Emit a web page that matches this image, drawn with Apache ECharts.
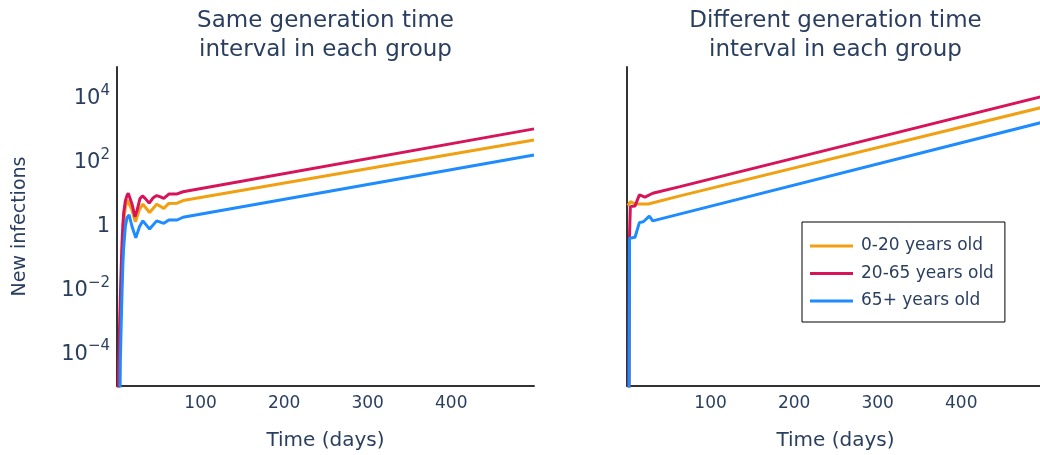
<!DOCTYPE html>
<html>
<head>
<meta charset="utf-8">
<script src="https://cdn.jsdelivr.net/npm/echarts@6/dist/echarts.min.js"></script>
<style>
  html, body { margin: 0; padding: 0; background: #ffffff; }
  #chart { width: 1040px; height: 455px; }
</style>
</head>
<body>
<div id="chart"></div>
<script>
// Daily new infections per age group, as [day, new infections] pairs.
const groupNames = ['0-20 years old', '20-65 years old', '65+ years old'];
const groupColors = ['#F0A010', '#D7145A', '#1E8CFF'];

const panelTitles = [
  'Same generation time\ninterval in each group',
  'Different generation time\ninterval in each group'
];

// Panel 1: same generation time interval in each group
const sameYoung = [
  [1, 1e-8], [2, 5e-6], [3, 1e-4], [4, 0.0015], [5, 0.015], [6, 0.1], [7, 0.5],
  [8, 1.5], [10, 4], [12, 6.8], [14, 7.8], [17.5, 3.5], [22, 1.4], [27, 3.5],
  [31, 5.0], [39, 2.75], [47.5, 5.0], [56, 3.7], [62, 5.3], [72, 5.4], [79, 6.5],
  [499, 513]
];
const sameAdult = [
  [1, 1e-7], [2, 3e-5], [3, 6e-4], [4, 0.006], [5, 0.05], [6, 0.3], [7, 1.1],
  [8, 2.7], [10, 6.3], [12, 9.5], [13.5, 11], [15, 10], [18, 5], [21.5, 2.0],
  [24, 3.2], [27.5, 7.5], [30.5, 9.1], [34, 7.5], [38.5, 5.4], [43, 7.8],
  [47.5, 9.3], [52, 8.5], [56, 7.6], [62, 10.4], [72, 10.5], [79, 12.3],
  [499, 1150]
];
const sameSenior = [
  [3, 1e-7], [4, 6e-5], [5, 8e-4], [6, 0.0083], [7, 0.063], [8, 0.22], [10, 1.0],
  [12, 1.9], [14.5, 2.3], [18, 1.0], [22.5, 0.44], [27, 1.0], [31, 1.5],
  [39, 0.83], [47.5, 1.5], [56, 1.26], [62, 1.6], [72, 1.6], [79, 1.95],
  [499, 174]
];

// Panel 2: different generation time interval in each group
const diffYoung = [
  [1, 4.5], [4, 6.0], [9.6, 5.1], [25.5, 5.1], [63.4, 9.1], [499, 5600]
];
const diffAdult = [
  [2, 1e-9], [3, 0.5], [4, 4.2], [9.6, 4.4], [14.8, 9.8], [21.5, 8.3],
  [30.8, 11], [63.4, 17.8], [499, 12300]
];
const diffSenior = [
  [2, 1e-9], [3, 0.43], [9.6, 0.46], [14.8, 1.32], [19.5, 1.41], [26.7, 2.1],
  [30.8, 1.5], [499, 1900]
];

// Axis settings
const dayRange = [0, 499];
const dayTicks = [100, 200, 300, 400];
const infectionRange = [1e-5, 1e5];
const infectionTicks = [1e-4, 1e-2, 1, 1e2, 1e4];

const panels = [
  [sameYoung, sameAdult, sameSenior],
  [diffYoung, diffAdult, diffSenior]
];

const textColor = '#2a3f5f';
const fontFamily = '"DejaVu Sans", Verdana, sans-serif';
const axisLineStyle = { color: '#333333', width: 2 };

// "1" for 10^0, otherwise 10 with a raised exponent
function powerLabel(value) {
  const e = Math.round(Math.log10(value));
  if (e === 0) return '{b|1}';
  const sup = e < 0 ? '\u2212' + (-e) : String(e);
  return '{b|10}{s|' + sup + '}';
}

const chart = echarts.init(document.getElementById('chart'), null, { renderer: 'canvas' });

const grids = [
  { left: 117, top: 67, width: 417, height: 319, outerBoundsMode: 'none', containLabel: false },
  { left: 627, top: 67, width: 417, height: 319, outerBoundsMode: 'none', containLabel: false }
];

const xAxes = grids.map((g, i) => ({
  type: 'value',
  gridIndex: i,
  min: dayRange[0],
  max: dayRange[1],
  axisLine: { show: true, onZero: false, lineStyle: axisLineStyle },
  axisTick: { show: false },
  splitLine: { show: false },
  axisLabel: {
    color: textColor, fontFamily, fontSize: 17, margin: 9,
    customValues: dayTicks,
    formatter: v => String(v)
  },
  name: 'Time (days)',
  nameLocation: 'middle',
  nameGap: 45,
  nameTextStyle: { color: textColor, fontFamily, fontSize: 20 }
}));

const yAxes = grids.map((g, i) => ({
  type: 'log',
  logBase: 10,
  gridIndex: i,
  min: infectionRange[0],
  max: infectionRange[1],
  axisLine: { show: true, onZero: false, lineStyle: axisLineStyle },
  axisTick: { show: false },
  splitLine: { show: false },
  minorTick: { show: false },
  axisLabel: {
    show: i === 0,
    margin: 7,
    customValues: infectionTicks,
    formatter: powerLabel,
    rich: {
      b: { color: textColor, fontFamily, fontSize: 21, lineHeight: 30 },
      s: { color: textColor, fontFamily, fontSize: 15, lineHeight: 12, verticalAlign: 'top' }
    }
  },
  name: i === 0 ? 'New infections' : '',
  nameLocation: 'middle',
  nameGap: 87,
  nameTextStyle: { color: textColor, fontFamily, fontSize: 19 }
}));

const series = [];
panels.forEach((groups, p) => {
  groups.forEach((data, k) => {
    series.push({
      type: 'line',
      name: groupNames[k],
      xAxisIndex: p,
      yAxisIndex: p,
      data: data,
      symbol: 'none',
      clip: true,
      lineStyle: { color: groupColors[k], width: 3 },
      itemStyle: { color: groupColors[k] },
      emphasis: { disabled: true },
      animation: false
    });
  });
});

chart.setOption({
  backgroundColor: '#ffffff',
  animation: false,
  title: panelTitles.map((t, i) => ({
    text: t,
    left: grids[i].left + grids[i].width / 2,
    top: 7,
    padding: 0,
    textAlign: 'center',
    textStyle: { color: textColor, fontFamily, fontSize: 23, fontWeight: 'normal', lineHeight: 29 }
  })),
  legend: {
    data: groupNames,
    orient: 'vertical',
    left: 802,
    top: 222,
    padding: [14, 11, 11, 8],
    itemGap: 7.5,
    itemWidth: 43,
    itemHeight: 3,
    icon: 'rect',
    backgroundColor: '#ffffff',
    borderColor: '#000000',
    borderWidth: 1,
    borderRadius: 0,
    selectedMode: false,
    textStyle: { color: textColor, fontFamily, fontSize: 17, lineHeight: 20, padding: [0, 0, 0, 3] }
  },
  grid: grids,
  xAxis: xAxes,
  yAxis: yAxes,
  series: series
});
</script>
</body>
</html>
